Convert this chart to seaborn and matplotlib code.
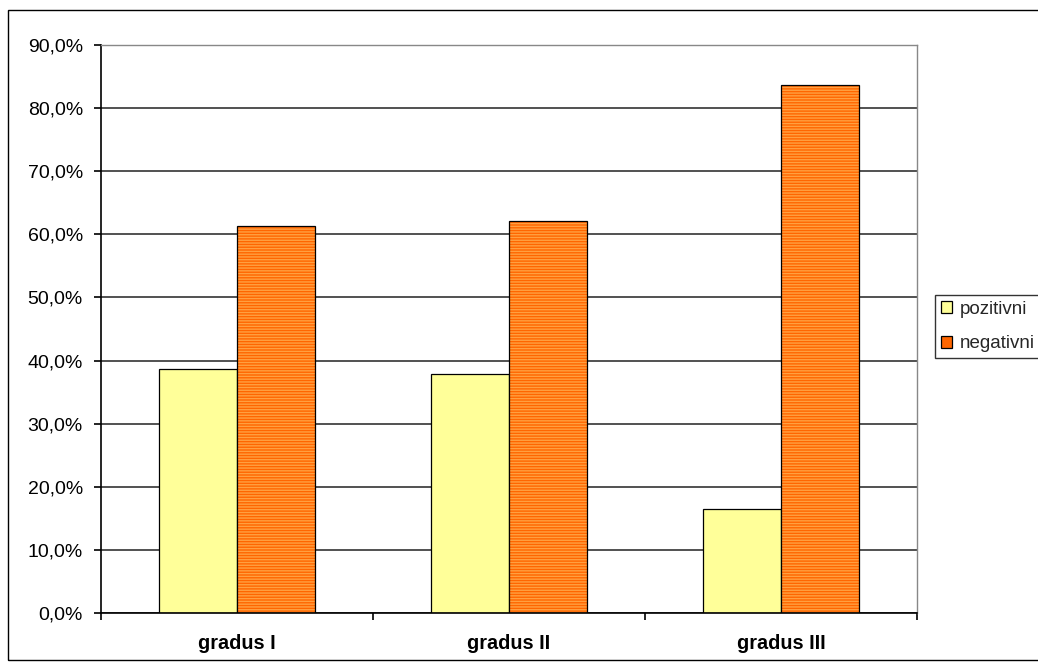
import matplotlib
matplotlib.use("Agg")
import matplotlib.pyplot as plt
import matplotlib.colors as mcolors
from matplotlib.patches import Rectangle, Patch
from matplotlib.ticker import FuncFormatter, FixedLocator
import seaborn as sns
import pandas as pd

categories = ["gradus I", "gradus II", "gradus III"]
series_names = ["pozitivni", "negativni"]
pozitivni = [38.7, 37.9, 16.4]
negativni = [61.3, 62.1, 83.6]
y_ticks = [0, 10, 20, 30, 40, 50, 60, 70, 80, 90]

rows = []
for c, p, n in zip(categories, pozitivni, negativni):
    rows.append({"kat": c, "serija": series_names[0], "val": p})
    rows.append({"kat": c, "serija": series_names[1], "val": n})
df = pd.DataFrame(rows)

sns.set_theme(style="white")
plt.rcParams["font.family"] = ["Liberation Sans", "DejaVu Sans"]
plt.rcParams["hatch.linewidth"] = 1.0

W, H = 1038, 671
fig = plt.figure(figsize=(W / 100, H / 100), dpi=100)
ax = fig.add_axes([101 / W, 1 - 613 / H, (917 - 101) / W, (613 - 45) / H])

yellow = "#FFFF99"
orange = "#FF6600"
stripe = "#FFA040"

sns.barplot(data=df, x="kat", y="val", hue="serija", order=categories,
            hue_order=series_names, palette=[yellow, orange], width=0.577,
            gap=0, ax=ax, legend=False, saturation=1)

n = len(categories)
for i, patch in enumerate(ax.patches):
    patch.set_edgecolor("black")
    patch.set_linewidth(0.9)
    if i >= n:
        patch.set_hatch("------")
        patch._hatch_color = mcolors.to_rgba(stripe)

ax.set_ylim(0, 90)
ax.set_xlim(-0.5, n - 0.5)
ax.set_yticks(y_ticks)
ax.yaxis.set_major_formatter(FuncFormatter(lambda v, p: f"{v:.1f}%".replace(".", ",")))
ax.set_xticks(range(n))
ax.set_xticklabels(categories, fontweight="bold", fontsize=14.3)
ax.xaxis.set_minor_locator(FixedLocator([i - 0.5 for i in range(n + 1)]))
ax.tick_params(axis="x", which="major", length=0, pad=15, labelcolor="black")
ax.tick_params(axis="x", which="minor", length=5, width=1.2, color="black", bottom=True)
ax.tick_params(axis="y", length=5, width=1.2, color="black", left=True, labelsize=14,
               labelcolor="black", pad=8)
ax.set_xlabel("")
ax.set_ylabel("")

ax.yaxis.grid(True, color="#222222", linewidth=1.1)
ax.set_axisbelow(True)
for s in ["left", "bottom"]:
    ax.spines[s].set_color("black")
    ax.spines[s].set_linewidth(1.2)
for s in ["top", "right"]:
    ax.spines[s].set_color("#888888")
    ax.spines[s].set_linewidth(1.0)

handles = [Patch(facecolor=yellow, edgecolor="black", linewidth=0.9),
           Patch(facecolor=orange, edgecolor="black", linewidth=0.9)]
leg = fig.legend(handles, series_names, loc="upper left",
                 bbox_to_anchor=(935 / W, 1 - 295 / H), frameon=True,
                 fontsize=13.5, handlelength=0.6, handleheight=0.6,
                 handletextpad=0.4, borderpad=0.3, labelspacing=0.95,
                 fancybox=False, borderaxespad=0)
leg.get_frame().set_edgecolor("black")
leg.get_frame().set_linewidth(1.0)

fig.patches.append(Rectangle((8 / W, 1 - 660 / H), 1.2, (660 - 10) / H,
                             transform=fig.transFigure, fill=False,
                             edgecolor="black", linewidth=1.0))

fig.savefig("out.png", dpi=100)
